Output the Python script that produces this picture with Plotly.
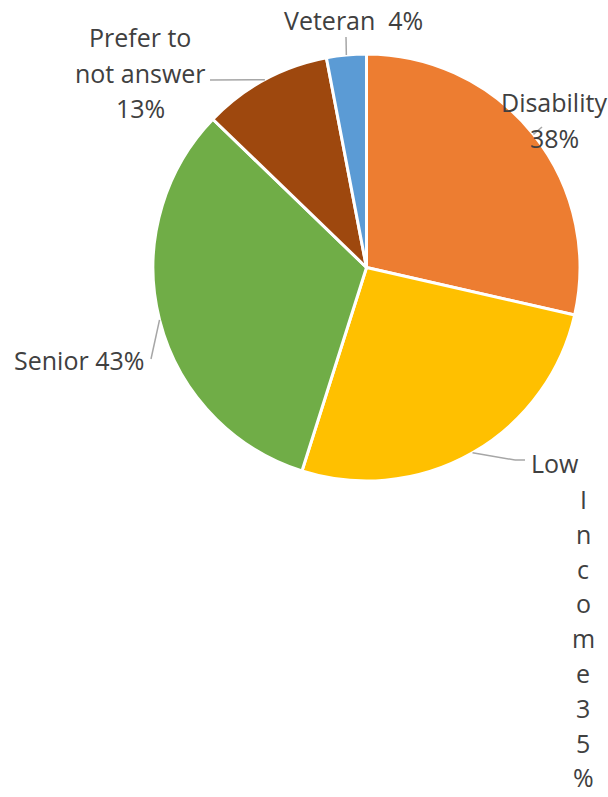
import math
import plotly.graph_objects as go

# Data
categories = ["Disability", "Low Income", "Senior", "Prefer to not answer", "Veteran"]
values = [38, 35, 43, 13, 4]
colors = ["#ED7D31", "#FFC000", "#70AD47", "#9E480E", "#5B9BD5"]

W, H = 608, 797
CX, CY, R = 366.5, 267.5, 213.5  # pie center / radius in pixels

def px(x):
    return x / W

def py(y):
    return 1 - y / H

fig = go.Figure(go.Pie(
    labels=categories, values=values, sort=False, direction="clockwise", rotation=0,
    marker=dict(colors=colors, line=dict(color="white", width=3)),
    textinfo="none", hoverinfo="label+value",
    domain=dict(x=[px(CX - R), px(CX + R)], y=[py(CY + R), py(CY - R)]),
    showlegend=False,
))

# mid-angle anchors computed from data
total = sum(values)
anchors = []
cum = 0
for v in values:
    mid = (cum + v / 2) / total * 2 * math.pi
    anchors.append((CX + R * math.sin(mid), CY - R * math.cos(mid)))
    cum += v

# leader line end points (pixel positions of label side)
leader_paths = [
    [(542, 127)],
    [(515, 460), (525, 460)],
    [(151, 359)],
    [(210, 80)],
    [(346, 37)],
]
shapes = []
for (ax, ay), pts in zip(anchors, leader_paths):
    prev = (ax, ay)
    for p in pts:
        shapes.append(dict(type="line", xref="paper", yref="paper",
                           x0=px(prev[0]), y0=py(prev[1]), x1=px(p[0]), y1=py(p[1]),
                           line=dict(color="#A6A6A6", width=1.5)))
        prev = p

FONT = dict(family="Open Sans, sans-serif", size=25, color="#404040")
annotations = []

def label(text, x, y, xanchor="center"):
    annotations.append(dict(text=text, x=px(x), y=py(y), xref="paper", yref="paper",
                            showarrow=False, xanchor=xanchor, yanchor="middle",
                            borderpad=0, font=FONT))

# Disability
label("Disability", 554, 102)
label("38%", 554, 138)
# Low Income (wrapped one character per line)
label("Low", 530, 463, "left")
income_chars = "Income35%"
for i, ch in enumerate(income_chars):
    label(ch, 583, 499 + i * 34.8)
# Senior
label("Senior 43%", 13, 360, "left")
# Prefer to not answer
for i, line in enumerate(["Prefer to", "not answer", "13%"]):
    label(line, 140, 37 + i * 35.5)
# Veteran
label("Veteran  4%", 353, 20)

fig.update_layout(width=W, height=H, margin=dict(l=0, r=0, t=0, b=0),
                  paper_bgcolor="white", plot_bgcolor="white",
                  shapes=shapes, annotations=annotations)

fig.write_html("out.html")
